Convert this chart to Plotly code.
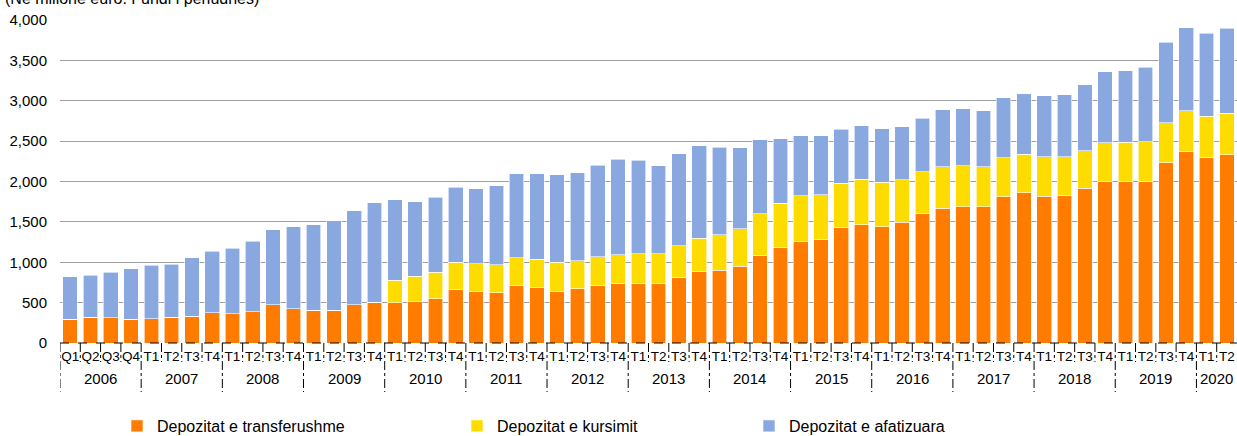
import plotly.graph_objects as go

years = ["2006", "2007", "2008", "2009", "2010", "2011", "2012", "2013",
         "2014", "2015", "2016", "2017", "2018", "2019", "2020"]
quarters_per_year = [4] * 14 + [2]
quarter_labels_2006 = ["Q1", "Q2", "Q3", "Q4"]
quarter_labels = ["T1", "T2", "T3", "T4"]

transferushme = [294, 319, 315, 294, 302, 319, 331, 373, 360, 385, 472, 422,
                 406, 406, 476, 505, 501, 518, 547, 661, 632, 624, 710, 686,
                 644, 673, 714, 735, 743, 731, 814, 888, 900, 950, 1086, 1185,
                 1260, 1284, 1430, 1464, 1439, 1493, 1608, 1666, 1687, 1687, 1810, 1860,
                 1819, 1831, 1914, 2004, 2000, 2004, 2235, 2367, 2301, 2330]
kursimit = [0, 0, 0, 0, 0, 0, 0, 0, 0, 0, 0, 0,
            0, 0, 0, 0, 274, 306, 327, 339, 351, 346, 343, 351,
            355, 347, 352, 359, 364, 376, 388, 409, 438, 462, 516, 545,
            561, 554, 551, 565, 549, 528, 512, 516, 511, 495, 487, 478,
            486, 474, 466, 479, 487, 487, 495, 507, 507, 516]
afatizuara = [526, 522, 563, 626, 663, 654, 725, 766, 816, 878, 928, 1019,
              1056, 1106, 1164, 1235, 1002, 928, 932, 929, 929, 979, 1041, 1061,
              1083, 1086, 1135, 1182, 1156, 1090, 1140, 1148, 1086, 1004, 913, 802,
              748, 731, 669, 664, 668, 660, 664, 709, 701, 697, 742, 747,
              759, 771, 820, 874, 886, 924, 994, 1027, 1027, 1051]

series_names = ["Depozitat e transferushme", "Depozitat e kursimit", "Depozitat e afatizuara"]
colors = ["#FF7C00", "#FFDC00", "#8AA8E0"]

# build category ids and tick texts
cats, ticktext, year_spans = [], [], []
idx = 0
for y, n in zip(years, quarters_per_year):
    labels = quarter_labels_2006 if y == "2006" else quarter_labels
    start = idx
    for q in range(n):
        cats.append(f"{y}-{q + 1}")
        ticktext.append(labels[q])
        idx += 1
    year_spans.append((y, start, idx - 1))

W, H = 1237, 436
ML, MR = 60, 0
plot_w = W - ML - MR
fig = go.Figure()
legend_names = ["legend", "legend2", "legend3"]
for name, vals, col, lg in zip(series_names, [transferushme, kursimit, afatizuara], colors, legend_names):
    fig.add_trace(go.Bar(
        x=cats, y=vals, name=name, marker_color=col,
        marker_line=dict(color="rgba(255,255,255,0.75)", width=0.8),
        legend=lg, showlegend=True,
    ))

font_family = "Liberation Sans, Arial, sans-serif"
plot_bottom_px = 343
plot_top_px = 20
plot_h = plot_bottom_px - plot_top_px

def py(px):
    return (plot_bottom_px - px) / plot_h

def pxx(px):
    return (px - ML) / plot_w

shapes = []
# dashed baseline
shapes.append(dict(type="line", xref="x", yref="paper", x0=-0.5, x1=len(cats) - 0.5,
                   y0=0, y1=0, line=dict(color="black", width=1, dash="dash")))
# quarter / year separators
year_starts = {s for _, s, _ in year_spans}
for i in range(len(cats)):
    long = i in year_starts
    y1 = py(392) if long else py(362)
    shapes.append(dict(type="line", xref="x", yref="paper", x0=i - 0.5, x1=i - 0.5,
                       y0=0, y1=y1, line=dict(color="black", width=1, dash="dashdot")))

annotations = []
for y, s, e in year_spans:
    annotations.append(dict(x=(s + e) / 2, y=py(378), xref="x", yref="paper", text=y,
                            showarrow=False, font=dict(size=15, color="black", family=font_family),
                            xanchor="center", yanchor="middle"))
annotations.append(dict(x=pxx(3), y=py(-2), xref="paper", yref="paper",
                        text="(Në milionë euro. Fundi i periudhës)", showarrow=False,
                        xanchor="left", yanchor="middle",
                        font=dict(size=16, color="black", family=font_family)))

leg_common = dict(orientation="h", xref="paper", yref="paper", yanchor="middle",
                  y=py(426), font=dict(size=16, color="black", family=font_family),
                  bgcolor="rgba(0,0,0,0)", itemwidth=30, visible=True)
fig.update_layout(
    width=W, height=H,
    showlegend=True,
    margin=dict(l=ML, r=MR, t=plot_top_px, b=H - plot_bottom_px, autoexpand=False),
    barmode="stack", bargap=0.28,
    plot_bgcolor="white", paper_bgcolor="white",
    font=dict(family=font_family, color="black"),
    xaxis=dict(type="category", categoryorder="array", categoryarray=cats,
               tickvals=cats, ticktext=ticktext, tickangle=0,
               tickfont=dict(size=13.5, color="black"), ticks="", showgrid=False,
               showline=False, range=[-0.5, len(cats) - 0.5], automargin=False,
               ticklabelstandoff=3),
    yaxis=dict(range=[0, 4000], tickvals=[0, 500, 1000, 1500, 2000, 2500, 3000, 3500, 4000],
               tickformat=",", tickfont=dict(size=15, color="black"),
               gridcolor="#A0A0A0", gridwidth=1.3, zeroline=False, showline=False,
               ticks="", ticklabelstandoff=12, automargin=False),
    shapes=shapes, annotations=annotations,
    legend=dict(x=pxx(117), **leg_common),
    legend2=dict(x=pxx(457), **leg_common),
    legend3=dict(x=pxx(749), **leg_common),
)

fig.write_html("out.html", config={"displayModeBar": False},
               post_script="document.body.style.margin='0';")
